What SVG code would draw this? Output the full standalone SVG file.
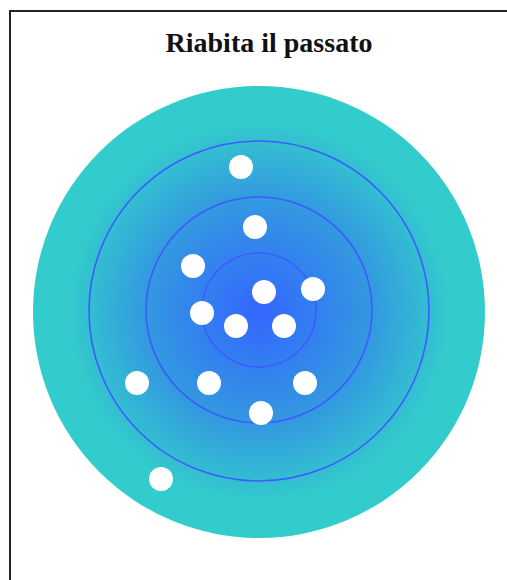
<svg xmlns="http://www.w3.org/2000/svg" width="507" height="580" viewBox="0 0 507 580">
<style>
.ring{fill:none;stroke:#3c5cff;stroke-width:1.6}
.dot{fill:#ffffff}
.title{font-family:"Liberation Serif",serif;font-weight:bold;font-size:28px;fill:#111111}
</style>
<defs>
<radialGradient id="g" cx="259" cy="312" r="226" gradientUnits="userSpaceOnUse">
<stop offset="0" stop-color="#3366ff"/>
<stop offset="0.5" stop-color="#3399e0"/>
<stop offset="0.85" stop-color="#33cccc"/>
<stop offset="1" stop-color="#33cccc"/>
</radialGradient>
</defs>
<rect x="10" y="11" width="520" height="600" fill="#ffffff" stroke="#222222" stroke-width="2"/>
<text class="title" x="269" y="52" text-anchor="middle">Riabita il passato</text>
<g id="target">
<circle cx="259" cy="312" r="226" fill="url(#g)"/>
<circle class="ring" cx="259" cy="311" r="170"/>
<circle class="ring" cx="259" cy="310" r="113"/>
<circle class="ring" cx="259" cy="310" r="57"/>
</g>
<g id="dots">
<circle class="dot" cx="241" cy="167" r="12"/>
<circle class="dot" cx="255" cy="227" r="12"/>
<circle class="dot" cx="193" cy="266" r="12"/>
<circle class="dot" cx="264" cy="292" r="12"/>
<circle class="dot" cx="313" cy="289" r="12"/>
<circle class="dot" cx="202" cy="313" r="12"/>
<circle class="dot" cx="236" cy="326" r="12"/>
<circle class="dot" cx="284" cy="326" r="12"/>
<circle class="dot" cx="137" cy="383" r="12"/>
<circle class="dot" cx="209" cy="383" r="12"/>
<circle class="dot" cx="305" cy="383" r="12"/>
<circle class="dot" cx="261" cy="413" r="12"/>
<circle class="dot" cx="161" cy="479" r="12"/>
</g>
</svg>
